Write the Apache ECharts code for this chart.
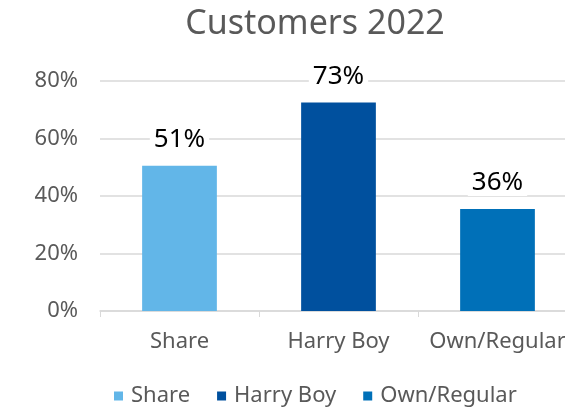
<!DOCTYPE html>
<html>
<head>
<meta charset="utf-8">
<script src="https://cdn.jsdelivr.net/npm/echarts@6/dist/echarts.min.js"></script>
<style>
  html, body { margin: 0; padding: 0; background: #fff; overflow: hidden; }
  /* chart is a bit wider than the window: the last category is cut at the right edge */
  #main { width: 577px; height: 407px; }
</style>
</head>
<body>
<div id="main"></div>
<script>
// 数据
var categories = ['Share', 'Harry Boy', 'Own/Regular'];
var values = [50.5, 72.5, 35.5];
var colors = ['#62B6E8', '#00509E', '#0070B8'];
var yTicks = [0, 20, 40, 60, 80];

var FONT = 'Noto Sans';
var chart = echarts.init(document.getElementById('main'));

// 每个类别一个系列，这样图例能显示三项
var series = categories.map(function (name, i) {
  var data = categories.map(function (c, j) { return j === i ? values[i] : '-'; });
  return {
    name: name,
    type: 'bar',
    stack: 'all',
    data: data,
    barWidth: '47%',
    itemStyle: { color: colors[i] },
    label: {
      show: true,
      position: 'top',
      distance: 13,
      color: '#000',
      fontFamily: FONT,
      fontSize: 26,
      backgroundColor: '#fff',
      padding: [0, 4],
      formatter: function (p) { return Math.round(p.value) + '%'; }
    }
  };
});

var option = {
  animation: false,
  title: {
    text: 'Customers 2022',
    left: 310,
    textAlign: 'center',
    top: 2,
    textStyle: { fontFamily: FONT, fontSize: 34, fontWeight: 'normal', color: '#595959' }
  },
  legend: {
    data: categories,
    top: 385,
    left: 114,
    padding: 0,
    itemWidth: 9,
    itemHeight: 9,
    itemGap: 27,
    icon: 'rect',
    textStyle: { fontFamily: FONT, fontSize: 22, color: '#595959', padding: [0, 0, 0, 3] }
  },
  grid: { left: 100, right: 0, top: 81, bottom: 96, containLabel: false },
  xAxis: {
    type: 'category',
    data: categories,
    axisLine: { lineStyle: { color: '#d9d9d9', width: 1.5 } },
    axisTick: { show: true, length: 6, lineStyle: { color: '#d9d9d9' } },
    axisLabel: {
      fontFamily: FONT, fontSize: 22, color: '#595959', margin: 20,
      interval: 0, hideOverlap: false
    }
  },
  yAxis: {
    type: 'value',
    min: 0,
    max: 80,
    interval: 20,
    axisLabel: {
      fontFamily: FONT, fontSize: 22, color: '#595959', margin: 22,
      formatter: function (v) { return yTicks.indexOf(v) >= 0 ? v + '%' : ''; }
    },
    splitLine: { lineStyle: { color: '#d9d9d9', width: 1.5 } },
    axisLine: { show: false },
    axisTick: { show: false }
  },
  series: series
};
chart.setOption(option);
</script>
</body>
</html>
